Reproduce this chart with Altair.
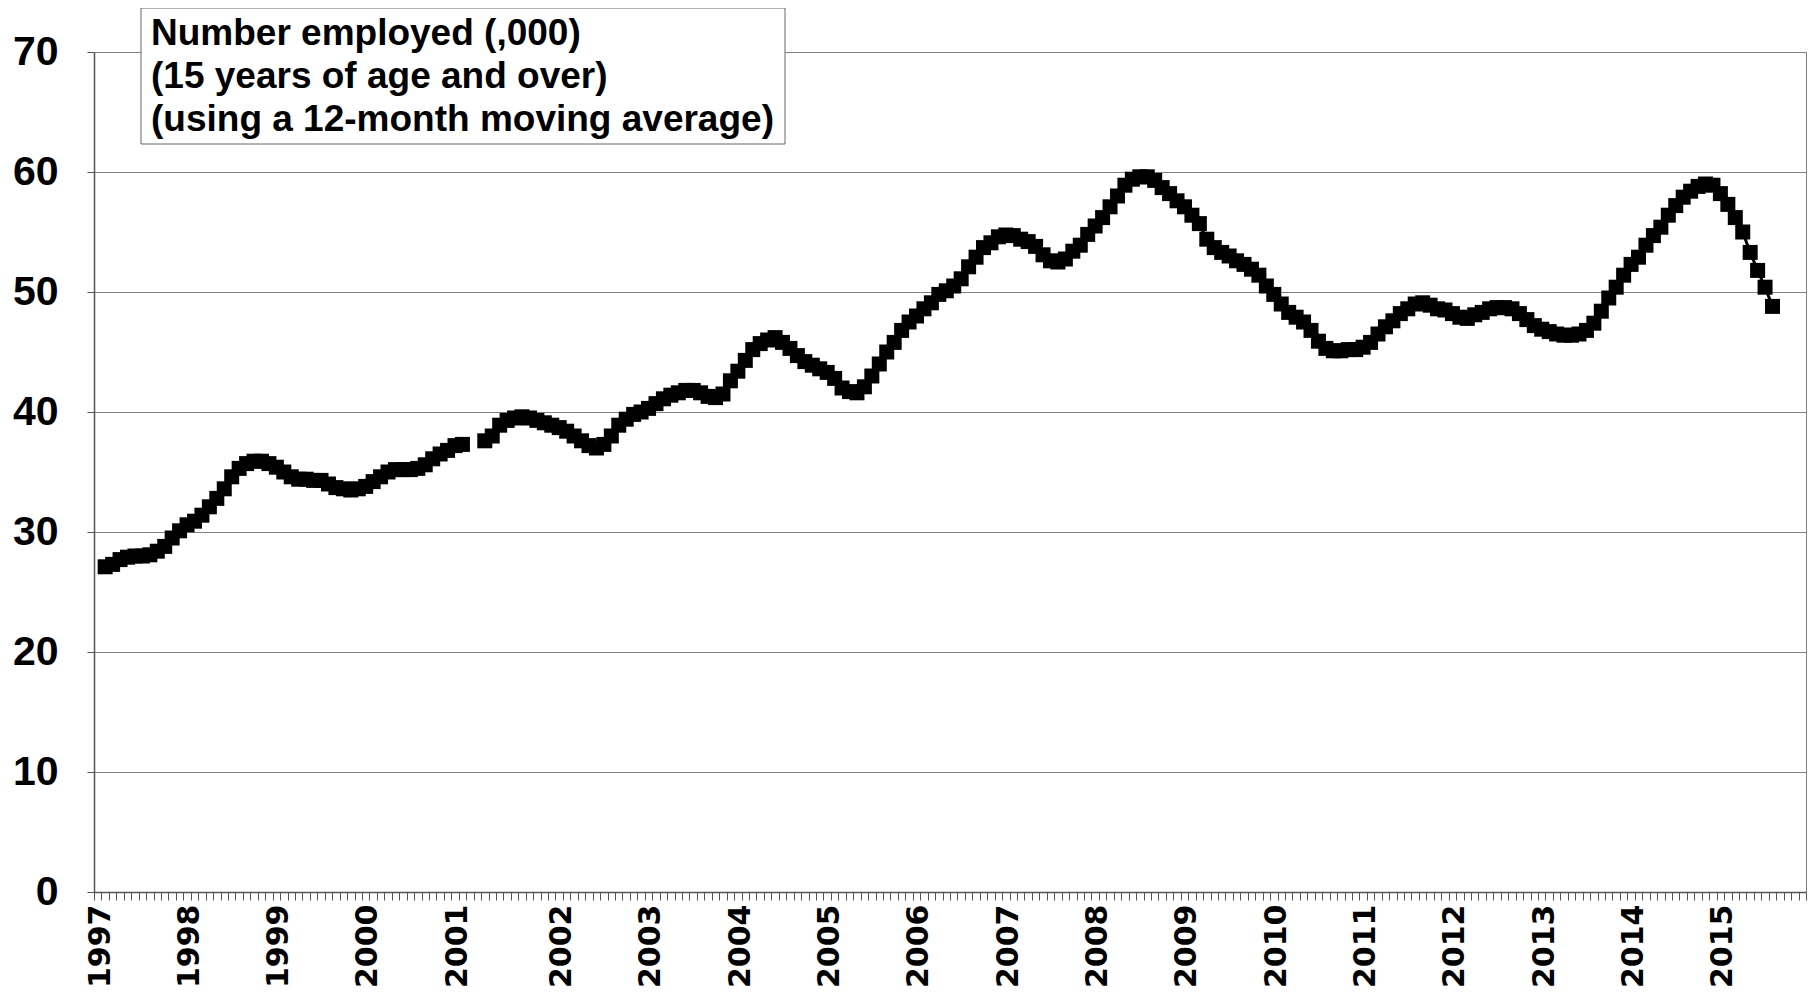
import json
import altair as alt
import pandas as pd

# ---- data ----
years = [str(y) for y in range(1997, 2016)]
# category index (one category per month; two blank categories in 2001)
year_index = [0, 12, 24, 36, 48, 62, 74, 86, 98, 110, 122, 134, 146, 158, 170, 182, 194, 206, 218]
n_categories = 230
first_index = 1  # first plotted value sits on category 1

employed = [
    27.1, 27.3, 27.7, 27.9, 28.0, 28.0, 28.1, 28.4, 28.8, 29.5,
    30.1, 30.6, 30.9, 31.4, 32.1, 32.8, 33.6, 34.6, 35.3, 35.7,
    35.9, 35.9, 35.7, 35.4, 35.0, 34.6, 34.4, 34.4, 34.3, 34.3,
    34.0, 33.7, 33.6, 33.5, 33.6, 33.8, 34.2, 34.6, 35.0, 35.2,
    35.2, 35.2, 35.3, 35.6, 36.1, 36.5, 36.8, 37.2, 37.3, None,
    None, 37.6, 38.0, 38.9, 39.3, 39.5, 39.6, 39.5, 39.3, 39.1,
    38.9, 38.7, 38.4, 38.0, 37.6, 37.2, 37.0, 37.3, 38.0, 38.9,
    39.4, 39.8, 40.0, 40.3, 40.7, 41.1, 41.4, 41.6, 41.8, 41.8,
    41.6, 41.3, 41.2, 41.5, 42.6, 43.4, 44.3, 45.2, 45.7, 46.0,
    46.2, 45.8, 45.3, 44.7, 44.2, 43.9, 43.6, 43.3, 42.8, 42.0,
    41.7, 41.6, 42.1, 43.0, 44.0, 45.0, 45.8, 46.8, 47.5, 48.0,
    48.6, 49.1, 49.8, 50.1, 50.5, 51.1, 52.1, 52.9, 53.7, 54.1,
    54.6, 54.75, 54.7, 54.4, 54.2, 53.8, 53.1, 52.6, 52.5, 52.75,
    53.4, 53.9, 54.8, 55.5, 56.2, 57.1, 58.0, 58.9, 59.4, 59.6,
    59.6, 59.3, 58.7, 58.2, 57.6, 57.1, 56.4, 55.7, 54.4, 53.7,
    53.3, 53.0, 52.6, 52.3, 51.9, 51.4, 50.5, 49.8, 49.0, 48.3,
    47.9, 47.5, 46.8, 45.9, 45.3, 45.1, 45.1, 45.2, 45.2, 45.4,
    45.8, 46.5, 47.1, 47.6, 48.2, 48.6, 49.0, 49.1, 48.9, 48.6,
    48.5, 48.2, 47.9, 47.8, 48.1, 48.3, 48.6, 48.7, 48.7, 48.6,
    48.2, 47.7, 47.2, 46.9, 46.7, 46.5, 46.4, 46.4, 46.5, 46.8,
    47.4, 48.4, 49.5, 50.4, 51.4, 52.3, 52.9, 53.9, 54.7, 55.4,
    56.4, 57.2, 57.9, 58.4, 58.8, 59.0, 58.9, 58.2, 57.3, 56.2,
    55.0, 53.3, 51.8, 50.4, 48.8,
]

y_ticks = [0, 10, 20, 30, 40, 50, 60, 70]
title_lines = [
    "Number employed (,000)",
    "(15 years of age and over)",
    "(using a 12-month moving average)",
]

# ---- build table ----
rows = []
seg = 0
for k, v in enumerate(employed):
    if v is None:
        seg += 1
        continue
    rows.append({"pos": first_index + k + 0.5, "value": v, "seg": seg})
df = pd.DataFrame(rows)

idx_js = json.dumps(year_index)
lab_js = json.dumps(years)
label_expr = (
    f"indexof({idx_js}, datum.value) >= 0 ? "
    f"{lab_js}[indexof({idx_js}, datum.value)] : ''"
)

x_enc = alt.X(
    "pos:Q",
    scale=alt.Scale(domain=[0, n_categories], nice=False, zero=False),
    axis=alt.Axis(
        values=list(range(n_categories + 1)),
        tickCount=n_categories + 1,
        labelExpr=label_expr,
        labelAngle=270,
        labelAlign="right",
        labelBaseline="middle",
        labelOffset=6,
        labelPadding=4,
        tickSize=8,
        tickColor="#555555",
        tickWidth=1,
        labelFont="DejaVu Sans",
        labelFontWeight="bold",
        labelFontSize=30,
        labelColor="black",
        labelOverlap=False,
        labelFlush=False,
        labelBound=False,
        grid=False,
        domainColor="#555555",
        domainWidth=1.5,
        title=None,
    ),
)
y_enc = alt.Y(
    "value:Q",
    scale=alt.Scale(domain=[0, 70], nice=False),
    axis=alt.Axis(
        values=y_ticks,
        labelFont="Liberation Sans",
        labelFontWeight="bold",
        labelFontSize=41,
        labelColor="black",
        labelPadding=29,
        tickSize=7,
        tickColor="#555555",
        grid=True,
        gridColor="#808080",
        gridWidth=1,
        domainColor="#555555",
        domainWidth=1.5,
        title=None,
    ),
)

base = alt.Chart(df)
line = base.mark_line(color="black", strokeWidth=3).encode(x=x_enc, y=y_enc, detail="seg:N")
points = base.mark_point(shape="square", filled=True, color="black", size=225, opacity=1).encode(
    x="pos:Q", y="value:Q"
)

box_df = pd.DataFrame({"label": ["\n".join(title_lines)]})
box = alt.Chart(box_df).mark_rect(fill="white", stroke="#666666", strokeWidth=1).encode(
    x=alt.value(47), x2=alt.value(691), y=alt.value(-44), y2=alt.value(92)
)
box_text = alt.Chart(box_df).mark_text(
    align="left",
    baseline="alphabetic",
    lineBreak="\n",
    lineHeight=43,
    font="Liberation Sans",
    fontWeight="bold",
    fontSize=37,
    color="black",
).encode(x=alt.value(57), y=alt.value(-7), text="label:N")

chart = (
    alt.layer(line, points, box, box_text)
    .properties(
        width=1712,
        height=840,
        autosize=alt.AutoSizeParams(type="none"),
        padding={"left": 86, "top": 44, "right": 1, "bottom": 98},
        background="white",
    )
    .configure_view(stroke="#808080", strokeWidth=1)
)

chart.save("out.html", embed_options={"renderer": "svg", "actions": False})
